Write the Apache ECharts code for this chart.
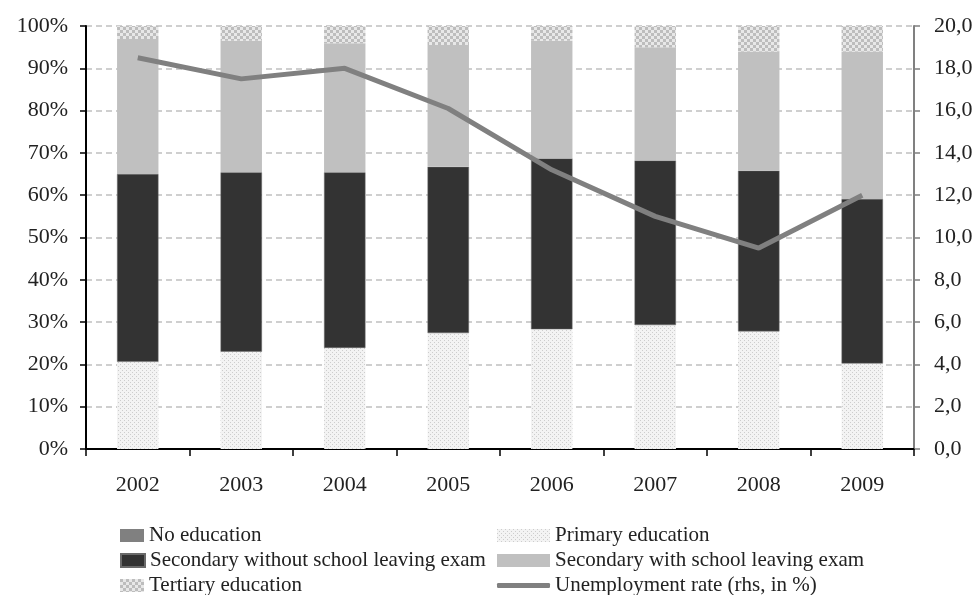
<!DOCTYPE html>
<html><head><meta charset="utf-8">
<script src="https://cdn.jsdelivr.net/npm/echarts@6/dist/echarts.min.js"></script>
<style>html,body{margin:0;padding:0;background:#fff}#c{width:978px;height:595px}</style>
</head><body><div id="c"></div>
<script>
const years = ['2002','2003','2004','2005','2006','2007','2008','2009'];
const noEducation = [0, 0, 0, 0, 0, 0, 0, 0];
const primary = [20.6, 23.0, 23.9, 27.4, 28.3, 29.3, 27.8, 20.2];
const secWithout = [44.4, 42.4, 41.5, 39.3, 40.4, 38.9, 38.0, 38.9];
const secWith = [31.9, 31.1, 30.5, 28.8, 27.8, 26.8, 28.2, 34.9];
const tertiary = [3.1, 3.5, 4.1, 4.5, 3.5, 5.0, 6.0, 6.0];
const unemployment = [18.5, 17.5, 18.0, 16.1, 13.2, 11.0, 9.5, 12.0];

const N_NO = 'No education', N_PRI = 'Primary education',
      N_SWO = 'Secondary without school leaving exam', N_SW = 'Secondary with school leaving exam',
      N_TER = 'Tertiary education', N_UN = 'Unemployment rate (rhs, in %)';

function dotPattern(){
  const c = document.createElement('canvas'); c.width = 4; c.height = 4;
  const g = c.getContext('2d');
  g.fillStyle = '#f3f3f3'; g.fillRect(0,0,4,4);
  g.fillStyle = '#cdcdcd'; g.fillRect(0,0,1,1); g.fillRect(2,2,1,1);
  return c;
}
function checkPattern(){
  const c = document.createElement('canvas'); c.width = 6; c.height = 6;
  const g = c.getContext('2d');
  g.fillStyle = '#e8e8e8'; g.fillRect(0,0,6,6);
  g.fillStyle = '#bdbdbd'; g.fillRect(0,0,3,3); g.fillRect(3,3,3,3);
  return c;
}
const FONT = '"Liberation Serif", "DejaVu Serif", serif';
const chart = echarts.init(document.getElementById('c'), null, {renderer:'canvas'});
const bw = '40%';
const legText = {fontFamily:FONT, fontSize:21, color:'#222'};
function leg(name, left, top, w, h, icon){
  const d = icon ? {name:name, icon:icon} : name;
  return {left:left, top:top, itemWidth:w, itemHeight:h, itemGap:6, padding:0,
    textStyle:legText, data:[d], selectedMode:false};
}
chart.setOption({
  animation:false,
  grid:{left:86, right:64, top:26, bottom:146},
  legend:[
    leg(N_NO, 120, 525, 24, 13, 'rect'),
    leg(N_SWO, 120, 550, 24, 13, 'rect'),
    leg(N_TER, 120, 575, 24, 13, 'rect'),
    leg(N_PRI, 497, 525, 53, 13, 'rect'),
    leg(N_SW, 497, 550, 53, 13, 'rect'),
    leg(N_UN, 497, 575, 53, 5, 'roundRect')
  ],
  xAxis:{type:'category', data:years, boundaryGap:true,
    axisLine:{lineStyle:{color:'#000', width:2}},
    axisTick:{show:true, length:7, lineStyle:{color:'#000', width:1.5}},
    axisLabel:{fontFamily:FONT, fontSize:22, color:'#222', margin:25}},
  yAxis:[
    {type:'value', min:0, max:100, interval:10,
     axisLine:{show:true, lineStyle:{color:'#000', width:2}},
     axisTick:{show:true, length:6, lineStyle:{color:'#000', width:1.5}},
     axisLabel:{fontFamily:FONT, fontSize:22, color:'#222', margin:18, formatter:'{value}%'},
     splitLine:{show:true, lineStyle:{color:'#c0c0c0', width:1.5, type:[6,4]}}},
    {type:'value', min:0, max:20, interval:2,
     axisLine:{show:true, lineStyle:{color:'#808080', width:2}},
     axisTick:{show:true, length:6, lineStyle:{color:'#808080', width:1.5}},
     axisLabel:{fontFamily:FONT, fontSize:22, color:'#222', margin:20,
       formatter:v=>v.toFixed(1).replace('.',',')},
     splitLine:{show:false}}
  ],
  series:[
    {name:N_NO, type:'bar', stack:'a', barWidth:bw, data:noEducation, itemStyle:{color:'#808080'}},
    {name:N_PRI, type:'bar', stack:'a', barWidth:bw, data:primary,
     itemStyle:{color:{image:dotPattern(), repeat:'repeat'}}},
    {name:N_SWO, type:'bar', stack:'a', barWidth:bw, data:secWithout,
     itemStyle:{color:'#333333', borderColor:'#6a6a6a', borderWidth:0.5}},
    {name:N_SW, type:'bar', stack:'a', barWidth:bw, data:secWith,
     itemStyle:{color:'#c0c0c0'}},
    {name:N_TER, type:'bar', stack:'a', barWidth:bw, data:tertiary,
     itemStyle:{color:{image:checkPattern(), repeat:'repeat'}}},
    {name:N_UN, type:'line', yAxisIndex:1, data:unemployment,
     symbol:'none', z:5, lineStyle:{color:'#808080', width:5}, itemStyle:{color:'#808080'}}
  ]
});
</script></body></html>
